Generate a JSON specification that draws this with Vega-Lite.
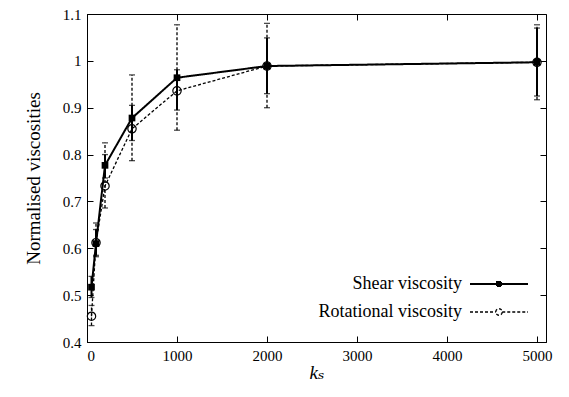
{
  "$schema": "https://vega.github.io/schema/vega-lite/v6.json",
  "width": 459,
  "height": 328,
  "autosize": {"type": "none"},
  "padding": {"left": 87, "top": 14, "right": 23, "bottom": 55},
  "background": "white",
  "config": {
    "font": "Liberation Serif, DejaVu Serif, serif",
    "view": {"stroke": "black", "strokeWidth": 1},
    "axis": {
      "grid": false,
      "domainColor": "black",
      "tickColor": "black",
      "labelColor": "black",
      "titleColor": "black",
      "labelFont": "Liberation Serif, DejaVu Serif, serif",
      "titleFont": "Liberation Serif, DejaVu Serif, serif",
      "labelFontSize": 15,
      "titleFontWeight": "normal",
      "tickSize": -6,
      "labelPadding": 12
    },
    "legend": {
      "labelFont": "Liberation Serif, DejaVu Serif, serif",
      "labelFontSize": 18,
      "labelColor": "black"
    }
  },
  "data": {
    "values": [
      {"series": "Shear viscosity", "k": 50, "v": 0.517, "lo": 0.495, "hi": 0.54},
      {"series": "Shear viscosity", "k": 100, "v": 0.61, "lo": 0.585, "hi": 0.64},
      {"series": "Shear viscosity", "k": 200, "v": 0.777, "lo": 0.75, "hi": 0.8},
      {"series": "Shear viscosity", "k": 500, "v": 0.878, "lo": 0.83, "hi": 0.905},
      {"series": "Shear viscosity", "k": 1000, "v": 0.964, "lo": 0.895, "hi": 0.981},
      {"series": "Shear viscosity", "k": 2000, "v": 0.989, "lo": 0.93, "hi": 1.049},
      {"series": "Shear viscosity", "k": 5000, "v": 0.997, "lo": 0.925, "hi": 1.07},
      {"series": "Rotational viscosity", "k": 50, "v": 0.455, "lo": 0.435, "hi": 0.478},
      {"series": "Rotational viscosity", "k": 100, "v": 0.612, "lo": 0.582, "hi": 0.654},
      {"series": "Rotational viscosity", "k": 200, "v": 0.733, "lo": 0.686, "hi": 0.825},
      {"series": "Rotational viscosity", "k": 500, "v": 0.855, "lo": 0.787, "hi": 0.97},
      {"series": "Rotational viscosity", "k": 1000, "v": 0.936, "lo": 0.852, "hi": 1.077},
      {"series": "Rotational viscosity", "k": 2000, "v": 0.989, "lo": 0.9, "hi": 1.08},
      {"series": "Rotational viscosity", "k": 5000, "v": 0.997, "lo": 0.917, "hi": 1.077}
    ]
  },
  "resolve": {"axis": {"x": "independent", "y": "independent"}},
  "layer": [
    {
      "mark": {"type": "rule"},
      "encoding": {
        "x": {
          "field": "k", "type": "quantitative",
          "scale": {"domain": [0, 5100], "nice": false, "zero": false},
          "axis": {"orient": "bottom", "values": [0, 1000, 2000, 3000, 4000, 5000], "format": "d", "title": "kₛ", "titleFontSize": 19, "titleFontStyle": "italic", "titlePadding": 0}
        },
        "y": {
          "field": "lo", "type": "quantitative",
          "scale": {"domain": [0.4, 1.1], "nice": false, "zero": false},
          "axis": {"orient": "left", "values": [0.4, 0.5, 0.6, 0.7, 0.8, 0.9, 1.0, 1.1], "format": "~g", "title": "Normalised viscosities", "titleFontSize": 19, "titlePadding": 19}
        },
        "y2": {"field": "hi"},
        "strokeDash": {
          "field": "series", "type": "nominal",
          "scale": {"domain": ["Shear viscosity", "Rotational viscosity"], "range": [[1, 0], [3, 2]]},
          "legend": {
            "title": null,
            "orient": "none",
            "legendX": 403,
            "legendY": 261,
            "padding": 0,
            "rowPadding": 10,
            "symbolSize": 100,
            "labelAlign": "right",
            "labelOffset": -46,
            "labelFontSize": 18,
            "encoding": {
              "symbols": {
                "shape": {"value": {"expr": "datum.value === 'Shear viscosity' ? 'M-5.8,0H5.8M-0.4,-0.4H0.4V0.4H-0.4Z' : 'M-5.8,0H-0.65M0.65,0H5.8M0.65,0A0.65,0.65,0,1,1,-0.65,0A0.65,0.65,0,1,1,0.65,0'"}},
                "fill": {"value": {"expr": "datum.value === 'Shear viscosity' ? 'black' : 'transparent'"}},
                "stroke": {"value": "black"},
                "strokeDash": {"value": {"expr": "datum.value === 'Shear viscosity' ? [1,0] : [3,2]"}},
                "strokeWidth": {"value": {"expr": "datum.value === 'Shear viscosity' ? 2 : 1"}},
                "opacity": {"value": 1}
              }
            }
          }
        },
        "strokeWidth": {"field": "series", "type": "nominal", "scale": {"domain": ["Shear viscosity", "Rotational viscosity"], "range": [2, 1.3]}, "legend": null},
        "color": {"value": "black"}
      }
    },
    {
      "mark": {"type": "tick", "orient": "horizontal", "size": 6, "thickness": 1.3, "color": "black"},
      "encoding": {
        "x": {"field": "k", "type": "quantitative", "axis": null},
        "y": {"field": "lo", "type": "quantitative", "axis": null}
      }
    },
    {
      "mark": {"type": "tick", "orient": "horizontal", "size": 6, "thickness": 1.3, "color": "black"},
      "encoding": {
        "x": {"field": "k", "type": "quantitative", "axis": null},
        "y": {"field": "hi", "type": "quantitative", "axis": null}
      }
    },
    {
      "mark": {"type": "line", "color": "black"},
      "encoding": {
        "x": {"field": "k", "type": "quantitative", "axis": {"orient": "top", "values": [0, 1000, 2000, 3000, 4000, 5000], "labels": false, "title": null, "domain": false}},
        "y": {"field": "v", "type": "quantitative", "axis": {"orient": "right", "values": [0.4, 0.5, 0.6, 0.7, 0.8, 0.9, 1.0, 1.1], "labels": false, "title": null, "domain": false}},
        "detail": {"field": "series"},
        "strokeDash": {"field": "series", "type": "nominal"},
        "strokeWidth": {"field": "series", "type": "nominal", "scale": {"domain": ["Shear viscosity", "Rotational viscosity"], "range": [2, 1]}, "legend": null}
      }
    },
    {
      "transform": [{"filter": "datum.series === 'Rotational viscosity'"}],
      "mark": {"type": "point", "shape": "circle", "filled": false, "size": 70, "stroke": "black", "strokeWidth": 1.2, "opacity": 1},
      "encoding": {
        "x": {"field": "k", "type": "quantitative", "axis": null},
        "y": {"field": "v", "type": "quantitative", "axis": null}
      }
    },
    {
      "transform": [{"filter": "datum.series === 'Shear viscosity'"}],
      "mark": {"type": "point", "shape": "square", "filled": true, "size": 45, "color": "black", "opacity": 1},
      "encoding": {
        "x": {"field": "k", "type": "quantitative", "axis": null},
        "y": {"field": "v", "type": "quantitative", "axis": null}
      }
    }
  ]
}
